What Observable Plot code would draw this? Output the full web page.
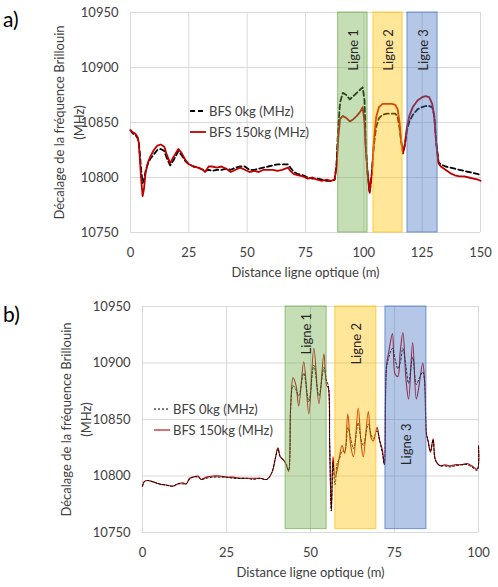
<!DOCTYPE html>
<html>
<head>
<meta charset="utf-8">
<script src="https://cdn.jsdelivr.net/npm/d3@7"></script>
<script src="https://cdn.jsdelivr.net/npm/@observablehq/plot@0.6"></script>
<style>
  body { margin: 0; background: #fff; font-family: Lato, sans-serif; }
  #wrap { position: relative; width: 498px; height: 587px; overflow: hidden; background: #fff; }
  #wrap svg.plot { position: absolute; left: 0; }
  .tag { position: absolute; left: 3px; font-size: 21px; line-height: 1; color: #000; }
  .legend { position: absolute; font-size: 13px; color: #404040; }
  .legend .row { display: flex; align-items: center; height: 21px; white-space: nowrap; }
  .legend svg { margin-right: 3px; }
</style>
</head>
<body>
<div id="wrap"></div>
<script>
// ---- Series names and shared axis ticks ----
const seriesNames = ["BFS 0kg (MHz)", "BFS 150kg (MHz)"];
const yTicks = [10750, 10800, 10850, 10900, 10950];
const lignes = ["Ligne 1", "Ligne 2", "Ligne 3"];
const ligneColors = ["#70ad47", "#ffc000", "#4472c4"];

// ---- a) measurement along 150 m of fibre ----
const xTicksA = [0, 25, 50, 75, 100, 125, 150];
const distA = [0, 1, 2, 3, 3.5, 4, 4.5, 5.2, 5.8, 6.5, 7.5, 8.5, 10, 11.5, 13, 14.5, 15.5, 17, 18.5, 20.5,
  22, 23.5, 25, 27, 29, 31, 32, 33.5, 35, 37, 39, 41, 43, 45, 47, 49, 51, 53, 55, 57,
  59, 61, 63, 65, 67.5, 68.5, 70, 72, 74, 76, 78, 80, 82, 84, 86, 87.5, 88.3, 89, 89.8, 91,
  92.5, 94, 95.5, 97, 98.5, 99.5, 100.3, 100.8, 101.6, 102.5, 103.5, 104.3, 105.3, 106.5, 108, 110, 112, 113.5, 114.5, 115.3,
  116, 116.8, 117.6, 118.5, 119.5, 121, 123, 125, 126.5, 128, 129.3, 130.2, 131, 132, 133, 135, 137, 139, 141, 143,
  145, 147, 149, 150];
const bfs0A = [10843, 10840, 10839, 10836, 10833, 10822, 10808, 10795, 10798, 10806, 10813, 10817, 10821, 10825, 10826, 10824, 10818, 10811, 10816, 10824,
  10820, 10815, 10812, 10810, 10809, 10807, 10806, 10807, 10806, 10807, 10807, 10808, 10807, 10809, 10810, 10810, 10807, 10807, 10808, 10809,
  10810, 10811, 10812, 10812, 10812, 10809, 10805, 10803, 10802, 10800, 10799, 10799, 10798, 10797, 10797, 10798, 10812, 10845, 10868, 10877,
  10875, 10871, 10874, 10877, 10880, 10882, 10870, 10830, 10804, 10786, 10805, 10830, 10846, 10854, 10857, 10858, 10858, 10858, 10855, 10845,
  10833, 10822, 10830, 10843, 10851, 10857, 10862, 10864, 10865, 10865, 10864, 10856, 10832, 10814, 10812, 10810, 10809, 10808, 10807, 10806,
  10805, 10804, 10803, 10802];
const bfs150A = [10843, 10841, 10840, 10837, 10832, 10818, 10800, 10783, 10790, 10805, 10814, 10819, 10825, 10829, 10830, 10828, 10821, 10813, 10819, 10826,
  10822, 10816, 10812, 10810, 10809, 10807, 10805, 10810, 10810, 10809, 10810, 10808, 10805, 10807, 10809, 10807, 10805, 10806, 10805, 10807,
  10807, 10807, 10806, 10807, 10809, 10806, 10803, 10802, 10801, 10799, 10800, 10798, 10797, 10798, 10797, 10798, 10810, 10835, 10853, 10856,
  10854, 10851, 10853, 10856, 10860, 10864, 10850, 10828, 10804, 10786, 10805, 10833, 10855, 10864, 10867, 10867, 10867, 10866, 10862, 10850,
  10833, 10822, 10830, 10846, 10856, 10864, 10870, 10873, 10874, 10873, 10867, 10855, 10832, 10813, 10810, 10807, 10804, 10802, 10801, 10801,
  10800, 10799, 10798, 10797];
const ligneStartA = [89, 104.1, 118.7];
const ligneEndA = [101.6, 116.6, 131.6];
const ligneLabelYA = [10916, 10916, 10916];

// ---- b) measurement along 100 m of fibre ----
const xTicksB = [0, 25, 50, 75, 100];
const distB = [0, 0.5, 1.5, 3, 5, 7, 9, 10.5, 12, 13, 14, 15, 16.5, 17.5, 19, 21, 23, 25, 27, 29,
  31, 33, 35, 37, 38.5, 39.5, 40.3, 41, 42, 42.8, 43.5, 44.1, 44.8, 45.7, 46.5, 48, 49.5, 51, 52.5, 54,
  54.8, 55.3, 55.7, 56.2, 56.7, 57.3, 58, 58.6, 59.4, 60.2, 61.1, 62, 62.8, 64.2, 65, 65.7, 67.2, 68, 68.7, 69.8,
  70.6, 71.4, 72, 72.6, 73.3, 74.4, 75.2, 76, 76.7, 77.5, 78.4, 79.2, 80.4, 81.5, 82.3, 83.4, 84, 84.5, 85, 85.7,
  86.5, 87.2, 88.7, 90, 91.5, 93, 95, 96.6, 98, 99.6, 100];
const bfs0B = [10791, 10795, 10796, 10795, 10793, 10792, 10791, 10793, 10793, 10793, 10797, 10799, 10799, 10797, 10798, 10799, 10799, 10799, 10798, 10798,
  10798, 10797, 10798, 10797, 10803, 10815, 10824, 10817, 10814, 10810, 10805, 10860, 10880, 10876, 10871, 10891, 10866, 10898, 10871, 10896,
  10884, 10880, 10830, 10769, 10812, 10792, 10812, 10815, 10822, 10822, 10843, 10833, 10824, 10847, 10833, 10827, 10846, 10837, 10833, 10840,
  10831, 10820, 10810, 10895, 10905, 10913, 10903, 10895, 10900, 10913, 10897, 10882, 10905, 10881, 10886, 10892, 10882, 10838, 10831, 10822,
  10832, 10814, 10809, 10809, 10808, 10809, 10810, 10810, 10808, 10805, 10826];
const bfs150B = [10791, 10795, 10796, 10795, 10793, 10792, 10791, 10793, 10794, 10793, 10798, 10799, 10800, 10797, 10799, 10800, 10800, 10799, 10799, 10798,
  10798, 10798, 10798, 10797, 10803, 10815, 10825, 10817, 10814, 10810, 10804, 10862, 10887, 10880, 10862, 10901, 10855, 10913, 10864, 10908,
  10880, 10878, 10828, 10769, 10817, 10799, 10806, 10817, 10827, 10820, 10855, 10826, 10817, 10860, 10831, 10817, 10857, 10834, 10831, 10843,
  10831, 10823, 10810, 10897, 10910, 10926, 10890, 10888, 10910, 10927, 10886, 10868, 10918, 10868, 10880, 10900, 10882, 10837, 10831, 10821,
  10833, 10814, 10809, 10810, 10809, 10810, 10810, 10811, 10809, 10806, 10827];
const ligneStartB = [42.6, 57.4, 72.3];
const ligneEndB = [54.8, 69.6, 84.5];
const ligneLabelYB = [10926, 10917, 10828];

const fontFamily = "Lato, 'Liberation Sans', sans-serif";
const textColor = "#404040";

function drawPanel(cfg) {
  const rows = cfg.dist.map((d, i) => ({d, v0: cfg.s0[i], v150: cfg.s150[i]}));
  const boxes = lignes.map((name, i) => ({
    name,
    x1: cfg.starts[i], x2: cfg.ends[i],
    xm: (cfg.starts[i] + cfg.ends[i]) / 2,
    ly: cfg.labelY[i],
    y1: cfg.boxBottom, y2: 10950
  }));
  const lineBlack = Plot.line(rows, {x: "d", y: "v0", stroke: "#000", strokeWidth: cfg.w0, strokeDasharray: cfg.dash, curve: cfg.curve});
  const lineRed = Plot.line(rows, {x: "d", y: "v150", stroke: "#c00000", strokeWidth: cfg.w150, curve: cfg.curve});
  return Plot.plot({
    width: 498,
    height: cfg.height,
    marginLeft: cfg.ml, marginRight: cfg.mr, marginTop: cfg.mt, marginBottom: cfg.mb,
    style: {fontFamily, fontSize: "13px", color: textColor, background: "transparent"},
    x: {domain: [0, cfg.xMax], ticks: cfg.xTicks, tickSize: 0, tickPadding: 15, tickFormat: d => String(d),
        label: "Distance ligne optique (m)", labelAnchor: "center", labelArrow: "none", labelOffset: 44},
    y: {domain: [10750, 10950], ticks: yTicks, tickSize: 0, tickPadding: 12, tickFormat: d => String(d), label: null},
    color: {domain: lignes, range: ligneColors},
    marks: [
      Plot.gridX(cfg.xTicks, {stroke: "#d9d9d9", strokeOpacity: 1}),
      Plot.gridY(yTicks, {stroke: "#d9d9d9", strokeOpacity: 1}),
      ...(cfg.redOnTop ? [lineBlack, lineRed] : [lineRed, lineBlack]),
      Plot.rect(boxes, {x1: "x1", x2: "x2", y1: "y1", y2: "y2", fill: "name", fillOpacity: 0.4, stroke: "name", strokeOpacity: 0.7, strokeWidth: 1}),
      Plot.text(boxes, {x: "xm", y: "ly", text: "name", rotate: -90, fill: "#262626", fontSize: 13, dx: 1}),
      Plot.text(["Décalage de la fréquence Brillouin\n(MHz)"], {frameAnchor: "left", dx: cfg.titleDx, rotate: -90,
        lineAnchor: "top", textAnchor: "middle", lineHeight: 1.5, fill: textColor, fontSize: 13})
    ]
  });
}

function legendBlock(left, top, dash, w0, w150) {
  const div = document.createElement("div");
  div.className = "legend";
  div.style.left = left + "px";
  div.style.top = top + "px";
  const strokes = [["#000", w0, dash], ["#c00000", w150, null]];
  div.innerHTML = seriesNames.map((name, i) => {
    const [c, w, da] = strokes[i];
    return `<div class="row"><svg width="16" height="8"><line x1="0" x2="16" y1="4" y2="4" stroke="${c}" stroke-width="${w}"${da ? ` stroke-dasharray="${da}"` : ""}/></svg><span>${name}</span></div>`;
  }).join("");
  return div;
}

const wrap = document.getElementById("wrap");

const plotA = drawPanel({
  dist: distA, s0: bfs0A, s150: bfs150A,
  starts: ligneStartA, ends: ligneEndA, labelY: ligneLabelYA, boxBottom: 10750,
  xTicks: xTicksA, xMax: 150, height: 290,
  ml: 130, mr: 18, mt: 12, mb: 58,
  w0: 1.8, w150: 1.8, dash: "5,3", curve: "linear", redOnTop: true, titleDx: -80
});
plotA.style.top = "0px";
wrap.appendChild(plotA);

const plotB = drawPanel({
  dist: distB, s0: bfs0B, s150: bfs150B,
  starts: ligneStartB, ends: ligneEndB, labelY: ligneLabelYB, boxBottom: 10753,
  xTicks: xTicksB, xMax: 100, height: 297,
  ml: 142, mr: 20, mt: 16, mb: 55,
  w0: 1, w150: 1.1, dash: "2,2", curve: "catmull-rom", redOnTop: false, titleDx: -85
});
plotB.style.top = "290px";
wrap.appendChild(plotB);

// panel tags
for (const [t, top] of [["a)", 8], ["b)", 303]]) {
  const s = document.createElement("div");
  s.className = "tag";
  s.style.top = top + "px";
  s.textContent = t;
  wrap.appendChild(s);
}

// legends
wrap.appendChild(legendBlock(190, 100, "5,3", 1.8, 1.8));
wrap.appendChild(legendBlock(154, 398, "2,2", 1, 1.1));
</script>
</body>
</html>
